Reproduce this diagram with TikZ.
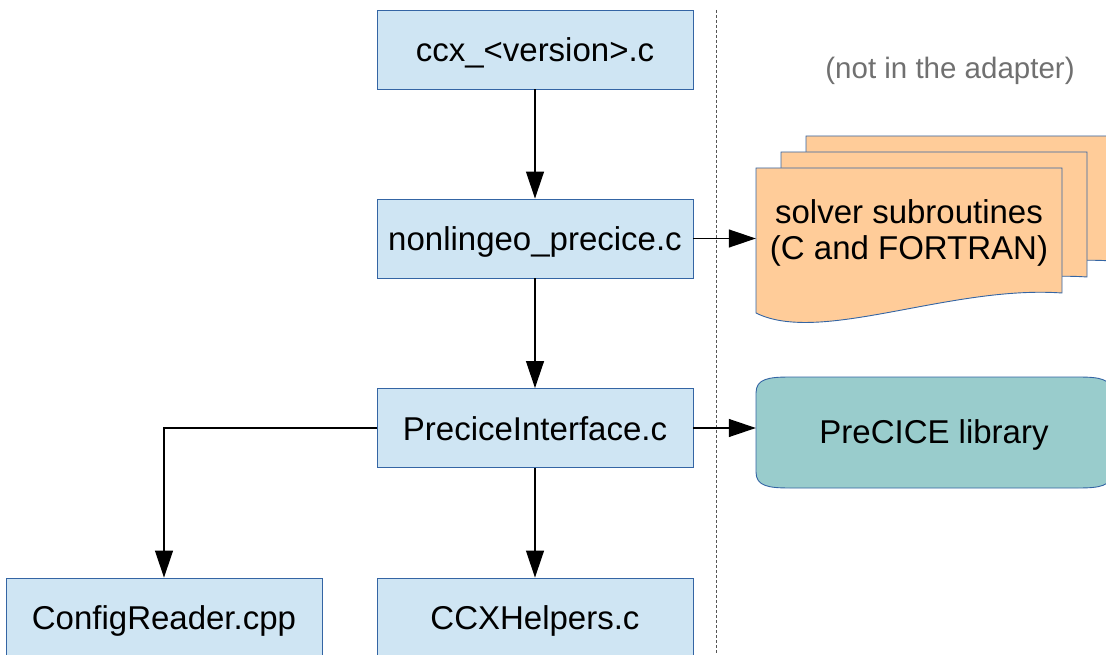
\documentclass[tikz,border=0pt]{standalone}
\usepackage{fontspec}
\setmainfont{Liberation Sans}
\usetikzlibrary{arrows.meta,calc}

\definecolor{boxfill}{HTML}{CFE5F3}
\definecolor{boxline}{HTML}{3465A4}
\definecolor{docfill}{HTML}{FFCC99}
\definecolor{libfill}{HTML}{99CCCC}
\definecolor{notetext}{HTML}{707070}
\definecolor{sepline}{HTML}{555555}

\tikzset{
  srcbox/.style={draw=boxline, fill=boxfill, line width=0.9pt, rectangle,
    minimum width=316pt, minimum height=79pt, inner sep=0pt,
    text height=24pt, text depth=0pt,
    font=\fontsize{33}{37}\selectfont},
  doc/.style={draw=boxline, fill=docfill, line width=0.9pt},
  lib/.style={draw=boxline, fill=libfill, line width=0.9pt},
  arr/.style={draw=black, line width=1.2pt,
    -{Triangle[length=27pt,width=18pt]}},
  txt/.style={inner sep=0pt, anchor=base, font=\fontsize{33}{37}\selectfont},
}

\begin{document}
\begin{tikzpicture}[x=1pt, y=-1pt]
  \useasboundingbox (0,0) rectangle (1106,655);

  % adapter / outside separator
  \draw[sepline, line width=0.8pt, dash pattern=on 3pt off 2pt] (716.5,10) -- (716.5,655);

  % adapter source files
  \node[srcbox] (ccx)  at (535,49.5)  {ccx\_<version>.c};
  \node[srcbox] (nl)   at (535,238.5) {nonlingeo\_precice.c};
  \node[srcbox] (pi)   at (535,428)   {PreciceInterface.c};
  \node[srcbox] (cfg)  at (164,617.5) {ConfigReader.cpp};
  \node[srcbox] (ccxh) at (535,617.5) {CCXHelpers.c};

  % note above the external parts
  \node[txt, text=notetext, font=\fontsize{29.5}{33}\selectfont] (note) at (950,79) {(not in the adapter)};

  % stack of solver documents (back to front)
  \foreach \dx/\dy in {50/-32, 25/-16} {
    \begin{scope}[shift={(\dx,\dy)}]
      \draw[doc] (756,168) -- (1062,168) -- (1062,293)
        .. controls (950,285) and (820,345) .. (756,313) -- cycle;
    \end{scope}
  }
  \draw[doc] (756,168) -- (1062,168) -- (1062,293)
    .. controls (950,285) and (820,345) .. (756,313) -- cycle;
  \node[inner sep=0pt, minimum width=306pt, minimum height=145pt] (solver) at (909,240.5) {};
  \node[txt] (solver1) at (909,223.5) {solver subroutines};
  \node[txt] (solver2) at (909,259) {(C and FORTRAN)};

  % preCICE library
  \draw[lib] (756,393) .. controls (756,379) and (768,377) .. (790,377)
    -- (1078,377) .. controls (1100,377) and (1112,379) .. (1112,393)
    -- (1112,472) .. controls (1112,486) and (1100,488) .. (1078,488)
    -- (790,488) .. controls (768,488) and (756,486) .. (756,472) -- cycle;
  \node[inner sep=0pt, minimum width=356pt, minimum height=111pt] (libbox) at (934,432.5) {};
  \node[txt] (libtxt) at (934,443.5) {PreCICE library};

  % call connections
  \draw[arr] (ccx) -- (nl);
  \draw[arr] (nl) -- (pi);
  \draw[arr] (pi) -- (ccxh);
  \draw[arr] (pi.west) -| (cfg.north);
  \draw[arr] (nl.east) -- (nl.east -| solver.west);
  \draw[arr] (pi.east) -- (pi.east -| libbox.west);
\end{tikzpicture}
\end{document}
